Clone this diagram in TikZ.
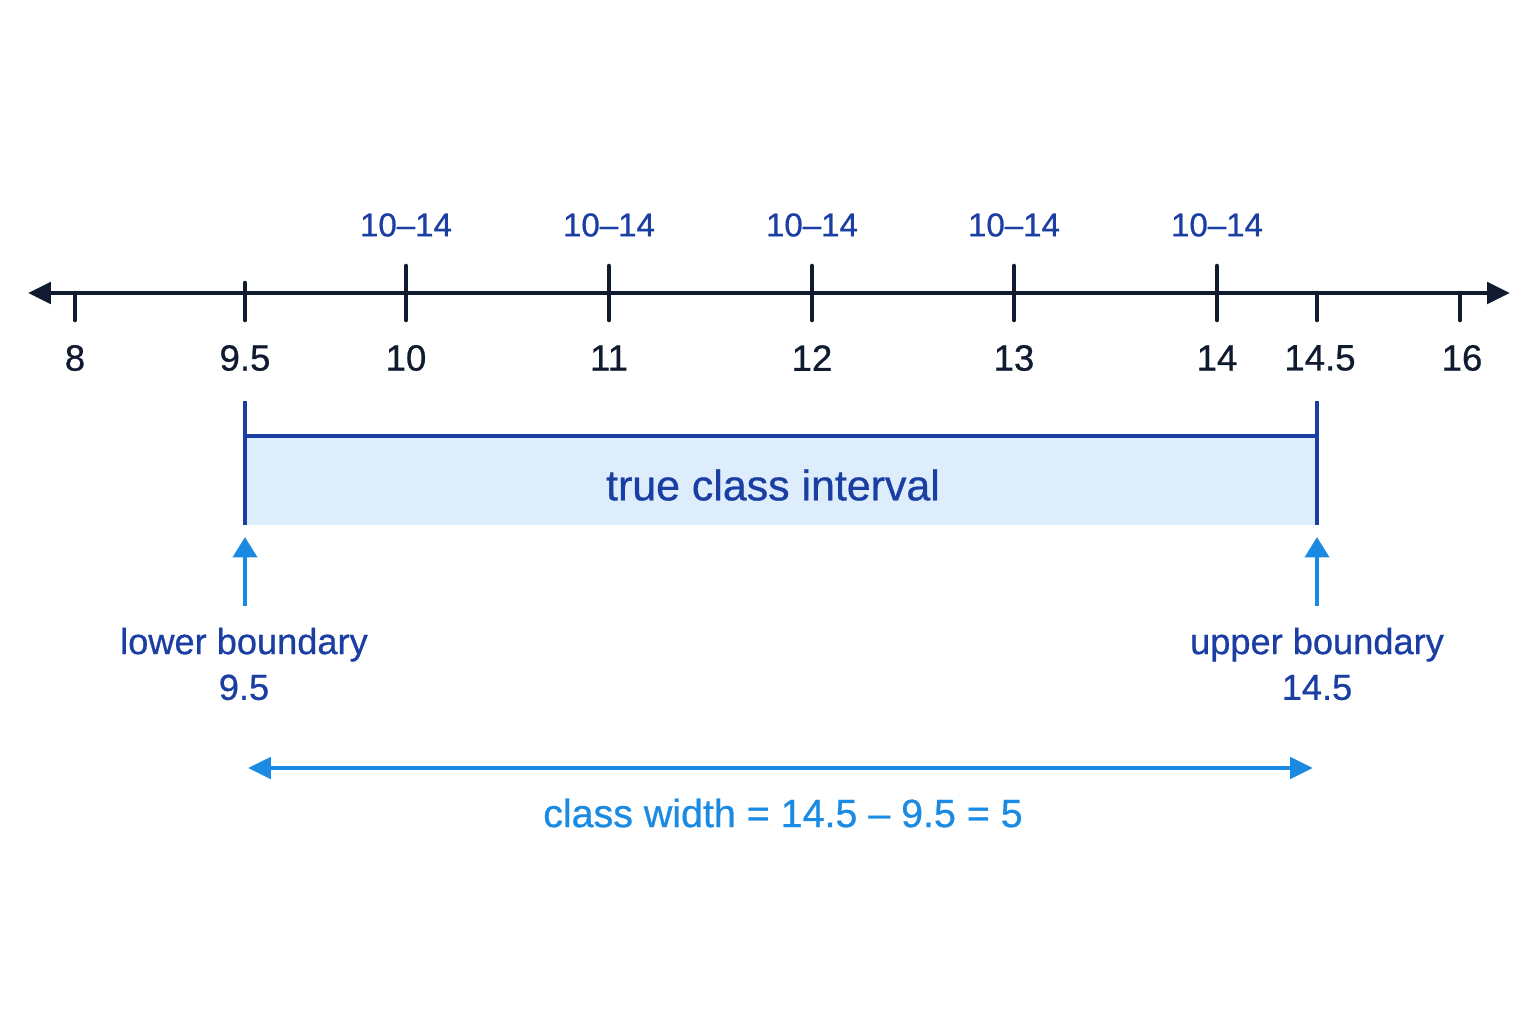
\documentclass[tikz,border=0pt]{standalone}
\usepackage{fontspec}
\setmainfont{Liberation Sans}[FakeBold=0.7]
\usetikzlibrary{arrows.meta}
\definecolor{axisnavy}{HTML}{111B30}
\definecolor{darkblue}{HTML}{1B3EA3}
\definecolor{brightblue}{HTML}{1A8AE2}
\definecolor{paleblue}{HTML}{DEEDFC}
\tikzset{
  tick/.style={line width=1.3pt, axisnavy, line cap=round},
  ticklabel/.style={axisnavy, font=\fontsize{10.4}{12}\selectfont},
  classlabel/.style={darkblue, font=\fontsize{9.4}{11}\selectfont},
  bluearrow/.style={line width=1.2pt, brightblue, -{Triangle[length=5.8pt, width=6.8pt]}},
}
\begin{document}
\begin{tikzpicture}[x=0.01cm, y=-0.01cm]
    \useasboundingbox (0,0) rectangle (1536,1024);

    % number line
    \draw (28, 293) coordinate(left)
          (1510, 293) coordinate(right);
    \draw[line width=1.35pt, axisnavy, {Triangle[length=6.5pt, width=6pt]}-{Triangle[length=6.5pt, width=6pt]}] (left) -- (right);

    \draw[tick] (75, 293) -- (75, 320);
    \draw[tick] (245, 283) -- (245, 320);
    \draw[tick] (1317, 293) -- (1317, 320);
    \draw[tick] (1460, 293) -- (1460, 320);
    \foreach \x in {406, 609, 812, 1014, 1217}
        \draw[tick] (\x, 266) -- (\x, 320);

    \draw (75, 358) node[ticklabel](n8){8}
          (245, 358) node[ticklabel](n95){9.5}
          (406, 358) node[ticklabel](n10){10}
          (609, 358) node[ticklabel](n11){11}
          (812, 358) node[ticklabel](n12){12}
          (1014, 358) node[ticklabel](n13){13}
          (1217, 358) node[ticklabel](n14){14}
          (1320, 358) node[ticklabel](n145){14.5}
          (1462, 358) node[ticklabel](n16){16};

    \draw (406, 225) node[classlabel](c1){10–14}
          (609, 225) node[classlabel](c2){10–14}
          (812, 225) node[classlabel](c3){10–14}
          (1014, 225) node[classlabel](c4){10–14}
          (1217, 225) node[classlabel](c5){10–14};

    % true class interval
    \fill[paleblue] (245, 436) rectangle (1317, 525);
    \draw[line width=1.2pt, darkblue] (245, 401) -- (245, 525)
          (1317, 401) -- (1317, 525)
          (245, 436) -- (1317, 436);
    \node[darkblue, font=\fontsize{12.2}{14}\selectfont] (interval) at (773, 485) {true class interval};

    % boundaries
    \node[darkblue, align=center, font=\fontsize{10.3}{13}\selectfont, inner sep=0pt] (lower) at (244, 664) {lower boundary\\9.5};
    \node[darkblue, align=center, font=\fontsize{10.3}{13}\selectfont, inner sep=0pt] (upper) at (1317, 664) {upper boundary\\14.5};
    \coordinate (lowtip) at (245, 537);
    \coordinate (uptip) at (1317, 537);
    \draw[bluearrow, shorten <=6pt] (lower.north -| lowtip) -- (lowtip);
    \draw[bluearrow, shorten <=6pt] (upper.north -| uptip) -- (uptip);

    % class width
    \coordinate (wleft) at (248, 768);
    \coordinate (wright) at (1313, 768);
    \draw[line width=1.2pt, brightblue, {Triangle[length=6.5pt, width=6pt]}-{Triangle[length=6.5pt, width=6pt]}] (wleft) -- (wright);
    \node[brightblue, font=\fontsize{11.2}{13}\selectfont] (width) at (783, 813) {class width = 14.5 – 9.5 = 5};
\end{tikzpicture}
\end{document}
